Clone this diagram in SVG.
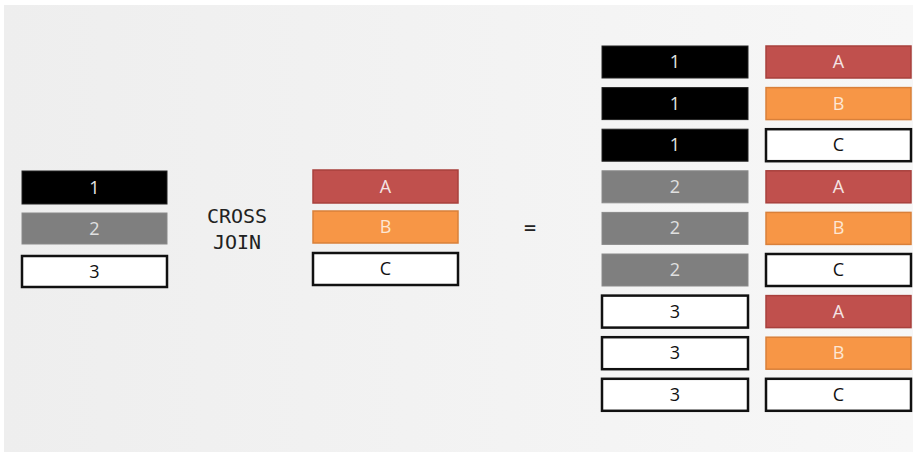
<svg xmlns="http://www.w3.org/2000/svg" width="924" height="456" viewBox="0 0 924 456">
<defs>
<linearGradient id="bg" x1="0" y1="0" x2="1" y2="0">
<stop offset="0" stop-color="#eeeeee"/>
<stop offset="1" stop-color="#f7f7f7"/>
</linearGradient>
</defs>
<style>
.k{fill:#000;stroke:#222;stroke-width:1}
.g{fill:#7f7f7f;stroke:#8a8a8a;stroke-width:1}
.w{fill:#fff;stroke:#111;stroke-width:2.5}
.r{fill:#c0504d;stroke:#a8403d;stroke-width:1.5}
.o{fill:#f79646;stroke:#d9803a;stroke-width:1.5}
text{font-family:"Open Sans","Liberation Sans",sans-serif;font-size:18px;text-anchor:middle}
.tk{fill:#e6e6e6}
.tg{fill:#e0e0e0}
.tw{fill:#111}
.tr{fill:#f4e4e4}
.to{fill:#fde7d4}
.mono{font-family:"DejaVu Sans Mono","Liberation Mono",monospace;font-size:20px;fill:#222}
</style>
<rect width="924" height="456" fill="#fff"/>
<rect x="4" y="5" width="909" height="447" fill="url(#bg)"/>

<g id="left-1"><rect class="k" x="22" y="171" width="145" height="33"/><text class="tk" x="94.5" y="194">1</text></g>
<g id="left-2"><rect class="g" x="22" y="213" width="145" height="31"/><text class="tg" x="94.5" y="235">2</text></g>
<g id="left-3"><rect class="w" x="22" y="256" width="145" height="31"/><text class="tw" x="94.5" y="278">3</text></g>

<g id="op-cross-join">
<text class="mono" x="237" y="223">CROSS</text>
<text class="mono" x="237" y="249">JOIN</text>
</g>

<g id="mid-A"><rect class="r" x="313" y="170" width="145" height="33"/><text class="tr" x="385.5" y="193">A</text></g>
<g id="mid-B"><rect class="o" x="313" y="211" width="145" height="32"/><text class="to" x="385.5" y="233">B</text></g>
<g id="mid-C"><rect class="w" x="313" y="253" width="145" height="32"/><text class="tw" x="385.5" y="275">C</text></g>

<g id="equals"><text class="mono" x="530" y="234">=</text></g>

<g id="res-1"><rect class="k" x="602" y="46" width="146" height="32"/><text class="tk" x="675" y="68">1</text><rect class="r" x="766" y="46" width="145" height="32"/><text class="tr" x="838.5" y="68">A</text></g>
<g id="res-2"><rect class="k" x="602" y="87.6" width="146" height="32"/><text class="tk" x="675" y="109.6">1</text><rect class="o" x="766" y="87.6" width="145" height="32"/><text class="to" x="838.5" y="109.6">B</text></g>
<g id="res-3"><rect class="k" x="602" y="129.2" width="146" height="32"/><text class="tk" x="675" y="151.2">1</text><rect class="w" x="766" y="129.2" width="145" height="32"/><text class="tw" x="838.5" y="151.2">C</text></g>
<g id="res-4"><rect class="g" x="602" y="170.8" width="146" height="32"/><text class="tg" x="675" y="192.8">2</text><rect class="r" x="766" y="170.8" width="145" height="32"/><text class="tr" x="838.5" y="192.8">A</text></g>
<g id="res-5"><rect class="g" x="602" y="212.4" width="146" height="32"/><text class="tg" x="675" y="234.4">2</text><rect class="o" x="766" y="212.4" width="145" height="32"/><text class="to" x="838.5" y="234.4">B</text></g>
<g id="res-6"><rect class="g" x="602" y="254" width="146" height="32"/><text class="tg" x="675" y="276">2</text><rect class="w" x="766" y="254" width="145" height="32"/><text class="tw" x="838.5" y="276">C</text></g>
<g id="res-7"><rect class="w" x="602" y="295.6" width="146" height="32"/><text class="tw" x="675" y="317.6">3</text><rect class="r" x="766" y="295.6" width="145" height="32"/><text class="tr" x="838.5" y="317.6">A</text></g>
<g id="res-8"><rect class="w" x="602" y="337.2" width="146" height="32"/><text class="tw" x="675" y="359.2">3</text><rect class="o" x="766" y="337.2" width="145" height="32"/><text class="to" x="838.5" y="359.2">B</text></g>
<g id="res-9"><rect class="w" x="602" y="378.8" width="146" height="32"/><text class="tw" x="675" y="400.8">3</text><rect class="w" x="766" y="378.8" width="145" height="32"/><text class="tw" x="838.5" y="400.8">C</text></g>

<g id="connectors"></g>
</svg>
